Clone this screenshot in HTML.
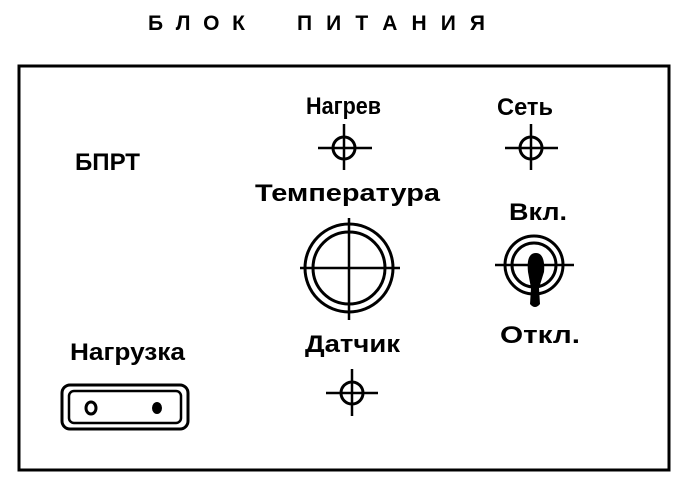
<!DOCTYPE html>
<html><head><meta charset="utf-8"><style>
html,body{margin:0;padding:0;background:#fff;width:684px;height:488px;overflow:hidden}
svg{display:block}
text{font-family:"Liberation Sans","DejaVu Sans",sans-serif;font-weight:bold;fill:#000}
</style></head><body>
<svg width="684" height="488" viewBox="0 0 684 488" xmlns="http://www.w3.org/2000/svg">
<text x="148" y="30" font-size="21" font-weight="normal" textLength="97" lengthAdjust="spacing">Б Л О К</text>
<text x="297" y="30" font-size="21" font-weight="normal" textLength="188" lengthAdjust="spacing">П И Т А Н И Я</text>
<rect x="19" y="66" width="650" height="404" fill="none" stroke="#000" stroke-width="3"/>
<text x="75" y="170" font-size="24" textLength="65" lengthAdjust="spacingAndGlyphs">БПРТ</text>
<text x="306" y="114" font-size="24" textLength="75" lengthAdjust="spacingAndGlyphs">Нагрев</text>
<text x="497" y="115" font-size="24" textLength="56" lengthAdjust="spacingAndGlyphs">Сеть</text>
<text x="255" y="201" font-size="24" textLength="185" lengthAdjust="spacingAndGlyphs">Температура</text>
<text x="509" y="220" font-size="24" textLength="58" lengthAdjust="spacingAndGlyphs">Вкл.</text>
<text x="70" y="360" font-size="24" textLength="115" lengthAdjust="spacingAndGlyphs">Нагрузка</text>
<text x="305" y="352" font-size="24" textLength="95" lengthAdjust="spacingAndGlyphs">Датчик</text>
<text x="500" y="343" font-size="24" textLength="80" lengthAdjust="spacingAndGlyphs">Откл.</text>
<g fill="none" stroke="#000" stroke-width="3">
<circle cx="344" cy="148" r="11"/><line x1="318" y1="148" x2="372" y2="148" stroke-width="2.5"/><line x1="344" y1="124" x2="344" y2="170" stroke-width="2.5"/>
<circle cx="531" cy="148" r="11"/><line x1="505" y1="148" x2="558" y2="148" stroke-width="2.5"/><line x1="531" y1="124" x2="531" y2="170" stroke-width="2.5"/>
<circle cx="352" cy="393" r="11"/><line x1="326" y1="393" x2="378" y2="393" stroke-width="2.5"/><line x1="352" y1="369" x2="352" y2="416" stroke-width="2.5"/>
<circle cx="349" cy="268" r="44"/><circle cx="349" cy="268" r="36"/>
<line x1="300" y1="268" x2="400" y2="268" stroke-width="2.5"/><line x1="349" y1="218" x2="349" y2="320" stroke-width="2.5"/>
<circle cx="534" cy="265" r="29"/><circle cx="534" cy="265" r="22"/>
<line x1="495" y1="265" x2="574" y2="265" stroke-width="2.5"/>
<rect x="62" y="385" width="126" height="44" rx="8"/>
<rect x="69" y="391" width="112" height="32" rx="5" stroke-width="2.5"/>
</g>
<path d="M536 253 C528 253 527 262 528 272 L531 288 L530 304 Q535 310 540 304 L539 288 L544 272 C545 262 543 253 536 253 Z" fill="#000"/>
<ellipse cx="91" cy="408" rx="5" ry="6" fill="none" stroke="#000" stroke-width="3"/>
<ellipse cx="157" cy="408" rx="5" ry="6" fill="#000"/>
</svg>
</body></html>
